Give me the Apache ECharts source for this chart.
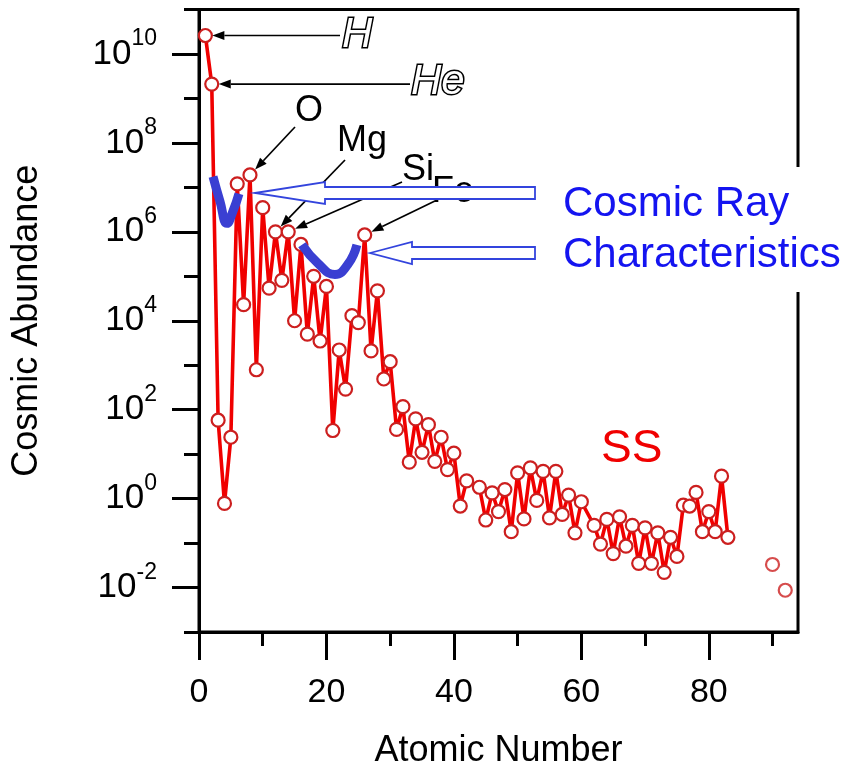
<!DOCTYPE html>
<html>
<head>
<meta charset="utf-8">
<script src="https://cdn.jsdelivr.net/npm/echarts@6/dist/echarts.min.js"></script>
<style>
html,body{margin:0;padding:0;background:#fff;}
#c{width:846px;height:768px;}
</style>
</head>
<body>
<div id="c"></div>
<script>
// ---- data ----
const atomicNumbers = [1,2,3,4,5,6,7,8,9,10,11,12,13,14,15,16,17,18,19,20,
  21,22,23,24,25,26,27,28,29,30,31,32,33,34,35,36,37,38,39,40,41,42,
  44,45,46,47,48,49,50,51,52,53,54,55,56,57,58,59,60,
  62,63,64,65,66,67,68,69,70,71,72,73,74,75,76,77,78,79,80,81,82,83];
const abundances = [2.6e10,2.1e9,58,0.78,24,1.2e7,2.3e4,1.9e7,790,3.5e6,5.4e4,1.0e6,8.1e4,1.0e6,1.0e4,5.2e5,5.0e3,1.0e5,3.5e3,5.9e4,
  34,2.2e3,290,1.3e4,9.1e3,8.5e5,2.1e3,4.7e4,490,1.2e3,36,117,6.6,62,11,46,6.9,24,4.5,10.5,0.68,2.5,
  1.8,0.33,1.35,0.51,1.6,0.18,3.8,0.35,4.9,0.91,4.1,0.37,4.1,0.44,1.2,0.17,0.85,
  0.25,0.095,0.34,0.058,0.39,0.085,0.25,0.035,0.22,0.035,0.17,0.022,0.135,0.05,0.71,0.68,1.38,0.18,0.51,0.18,3.2,0.135];
const heavyNumbers = [90,92];
const heavyAbundances = [0.033,0.0087];

// blue "V" marks (data space)
const vMark1X = [2.2,3.3,4.4,5.33,6.27];
const vMark1Y = [1.74e7,4.8e6,1.55e6,2.9e6,7.2e6];
const vMark2X = [16.16,18.67,21.33,23.37,24.78];
const vMark2Y = [5.1e5,1.95e5,1.1e5,1.86e5,5.1e5];

const xMajorTicks = [0,20,40,60,80];
const xMinorTicks = [10,30,50,70,90];
const yMajorTicks = [1e-2,1,1e2,1e4,1e6,1e8,1e10];
const yMinorTicks = [1e-3,1e-1,1e1,1e3,1e5,1e7,1e9,1e11];

const zip = (a,b) => a.map((v,i)=>[v,b[i]]);
const FONT = '"Liberation Sans", Arial, Helvetica, sans-serif';

const chart = echarts.init(document.getElementById('c'), null, {renderer:'canvas'});

const axisLineStyle = {color:'#000', width:3};

const option = {
  backgroundColor:'#fff',
  animation:false,
  textStyle:{fontFamily:FONT},
  grid:{left:199, right:48, top:9.5, bottom:136, containLabel:false, outerBoundsMode:'none',
    show:true, borderColor:'#000', borderWidth:3, backgroundColor:'transparent'},
  xAxis:[{
    type:'value', min:0, max:94, position:'bottom',
    name:'Atomic Number', nameLocation:'middle', nameGap:101,
    nameTextStyle:{fontSize:36, color:'#000', fontFamily:FONT},
    axisLine:{show:true, onZero:false, lineStyle:axisLineStyle},
    axisTick:{show:true, inside:false, length:28, lineStyle:{color:'#000', width:3}, customValues:xMajorTicks},
    axisLabel:{show:true, margin:44, fontSize:34, color:'#000', fontFamily:FONT, customValues:xMajorTicks},
    splitLine:{show:false}
  },{
    type:'value', min:0, max:94, position:'bottom',
    axisLine:{show:false, onZero:false},
    axisTick:{show:true, inside:false, length:14, lineStyle:{color:'#000', width:3}, customValues:xMinorTicks},
    axisLabel:{show:false},
    splitLine:{show:false}
  }],
  yAxis:[{
    type:'log', logBase:10, min:1e-3, max:1e11, position:'left',
    name:'Cosmic Abundance', nameLocation:'middle', nameGap:154, nameRotate:90,
    nameTextStyle:{fontSize:36, color:'#000', fontFamily:FONT},
    axisLine:{show:true, onZero:false, lineStyle:axisLineStyle},
    axisTick:{show:true, inside:false, length:27, lineStyle:{color:'#000', width:3}, customValues:yMajorTicks},
    axisLabel:{show:true, margin:42, color:'#000', fontFamily:FONT, customValues:yMajorTicks,
      formatter:function(v){
        const e = Math.round(Math.log10(v));
        return '{b|10}{s|' + e + '}';
      },
      rich:{
        b:{fontSize:35, lineHeight:35, verticalAlign:'middle', padding:[0,0,0,0], color:'#000', fontFamily:FONT},
        s:{fontSize:23, lineHeight:23, verticalAlign:'middle', padding:[0,0,30,0], color:'#000', fontFamily:FONT}
      }
    },
    splitLine:{show:false}
  },{
    type:'log', logBase:10, min:1e-3, max:1e11, position:'left',
    axisLine:{show:false, onZero:false},
    axisTick:{show:true, inside:false, length:15, lineStyle:{color:'#000', width:3}, customValues:yMinorTicks},
    axisLabel:{show:false},
    splitLine:{show:false}
  }],
  series:[
    {
      type:'line', name:'SS', data:zip(atomicNumbers, abundances),
      xAxisIndex:0, yAxisIndex:0,
      symbol:'circle', symbolSize:13,
      lineStyle:{color:'#f00000', width:3.6},
      itemStyle:{color:'#ffffff', borderColor:'#cc1f1f', borderWidth:2.2},
      z:3
    },
    {
      type:'scatter', name:'SS heavy', data:zip(heavyNumbers, heavyAbundances),
      xAxisIndex:0, yAxisIndex:0,
      symbol:'circle', symbolSize:13,
      itemStyle:{color:'#ffffff', borderColor:'#cc1f1f', borderWidth:2.2},
      z:3
    },
    {
      type:'line', data:zip(vMark1X, vMark1Y), smooth:0.5, symbol:'none',
      lineStyle:{color:'#3a3fd2', width:9, cap:'butt'}, z:5, silent:true
    },
    {
      type:'line', data:zip(vMark2X, vMark2Y), smooth:0.5, symbol:'none',
      lineStyle:{color:'#3a3fd2', width:9, cap:'butt'}, z:5, silent:true
    }
  ]
};
chart.setOption(option);

// ---- annotations ----
function px(z){
  const i = atomicNumbers.indexOf(z);
  return chart.convertToPixel({xAxisIndex:0, yAxisIndex:0}, [z, abundances[i]]);
}
function arrow(start, target, gap){
  const dx = start[0]-target[0], dy = start[1]-target[1];
  const d = Math.sqrt(dx*dx+dy*dy);
  const ux = dx/d, uy = dy/d;
  const tip = [target[0]+ux*gap, target[1]+uy*gap];
  const hl = 12, hw = 4.5;
  const base = [tip[0]+ux*hl, tip[1]+uy*hl];
  const nx = -uy, ny = ux;
  return [
    {type:'line', shape:{x1:start[0], y1:start[1], x2:base[0], y2:base[1]}, style:{stroke:'#000', lineWidth:1.7}, z:20},
    {type:'polygon', shape:{points:[tip,[base[0]+nx*hw, base[1]+ny*hw],[base[0]-nx*hw, base[1]-ny*hw]]}, style:{fill:'#000'}, z:20}
  ];
}
const g = [];
const pH = px(1), pHe = px(2), pO = px(8), pMg = px(12), pSi = px(14), pFe = px(26);
g.push(...arrow([340, pH[1]], pH, 7));
g.push(...arrow([410, pHe[1]], pHe, 7));
g.push(...arrow([295,127], pO, 7.5));
g.push(...arrow([345,160], pMg, 7.5));
g.push(...arrow([402,182], pSi, 7.5));
g.push(...arrow([437,200], pFe, 7.5));

// element labels
g.push({type:'text', x:342, y:pH[1], style:{text:'H', font:'italic 42px '+FONT, fill:'#fff', stroke:'#000', lineWidth:3, verticalAlign:'middle', align:'left'}, z:21});
g.push({type:'text', x:411, y:pHe[1]-2, style:{text:'He', font:'italic 42px '+FONT, fill:'#fff', stroke:'#000', lineWidth:3, verticalAlign:'middle', align:'left'}, z:21});
g.push({type:'text', x:309, y:111, style:{text:'O', font:'36px '+FONT, fill:'#000', verticalAlign:'middle', align:'center'}, z:21});
g.push({type:'text', x:337, y:141, style:{text:'Mg', font:'36px '+FONT, fill:'#000', verticalAlign:'middle', align:'left'}, z:21});
g.push({type:'text', x:402, y:170, style:{text:'Si', font:'36px '+FONT, fill:'#000', verticalAlign:'middle', align:'left'}, z:21});
g.push({type:'text', x:432, y:192, style:{text:'Fe', font:'36px '+FONT, fill:'#000', verticalAlign:'middle', align:'left'}, z:19});

// hollow blue arrows
const arrowStyle = {fill:'#fff', stroke:'#3344dd', lineWidth:1.8};
g.push({type:'polygon', shape:{points:[[255,193],[325,182],[325,187],[535,187],[535,199],[325,199],[325,204]]}, style:arrowStyle, z:22});
g.push({type:'polygon', shape:{points:[[370,253],[412,242],[412,247],[535,247],[535,259],[412,259],[412,264]]}, style:arrowStyle, z:22});

// text box
g.push({type:'rect', shape:{x:548, y:167, width:298, height:125}, style:{fill:'#fff'}, z:23});
g.push({type:'text', x:563, y:204, style:{text:'Cosmic Ray', font:'42px '+FONT, fill:'#1414f0', verticalAlign:'middle', align:'left'}, z:24});
g.push({type:'text', x:563, y:255, style:{text:'Characteristics', font:'42px '+FONT, fill:'#1414f0', verticalAlign:'middle', align:'left'}, z:24});
// SS label
g.push({type:'text', x:601, y:449, style:{text:'SS', font:'46px '+FONT, fill:'#f00000', verticalAlign:'middle', align:'left'}, z:24});

chart.setOption({graphic:{elements:g}});
</script>
</body>
</html>
